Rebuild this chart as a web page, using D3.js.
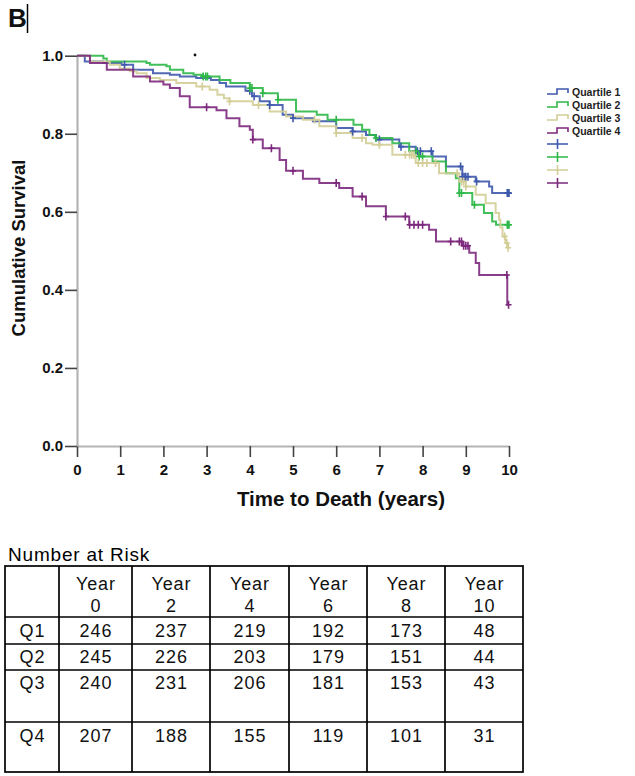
<!DOCTYPE html>
<html><head><meta charset="utf-8">
<script src="https://cdn.jsdelivr.net/npm/d3@7"></script>
<style>body{margin:0;background:#fff}svg{display:block}</style>
</head><body>
<svg id="c" width="635" height="776"></svg>
<script>
// ---------- data ----------
const xTicks = [0,1,2,3,4,5,6,7,8,9,10];
const yTicks = [0,0.2,0.4,0.6,0.8,1.0];
const seriesNames = ["Quartile 1","Quartile 2","Quartile 3","Quartile 4"];
const seriesColors = ["#3E58AC","#2EB848","#D3CE97","#7C287D"];

const q1Time = [0,0.18,0.61,1.03,1.3,1.76,2.15,2.38,2.76,3.1,3.3,3.45,3.9,4.05,4.23,4.46,4.76,5.0,5.46,6.0,6.38,6.69,6.92,7.46,7.84,8.23,8.54,8.92,9.23,9.54,9.61,10];
const q1Surv = [1.0,0.985,0.981,0.977,0.964,0.955,0.951,0.947,0.943,0.938,0.93,0.921,0.91,0.896,0.883,0.874,0.849,0.84,0.832,0.815,0.806,0.797,0.785,0.767,0.755,0.742,0.716,0.69,0.678,0.665,0.648,0.648];
const q1Censor = [1.1,4.0,4.1,4.46,5.0,6.38,7.0,7.5,7.84,7.88,7.95,8.2,8.88,8.92,8.96,9.0,9.05,9.25,9.96,9.98,10];

const q2Time = [0,0.61,0.69,1.61,1.69,2.07,2.15,2.46,2.7,2.9,3.3,3.55,4.0,4.3,4.65,5.07,5.55,5.8,6.4,6.6,6.77,6.9,7.3,7.69,7.92,8.23,8.54,8.77,8.85,9.15,9.42,9.61,9.7,10];
const q2Surv = [1.0,0.993,0.985,0.981,0.977,0.973,0.964,0.955,0.951,0.947,0.938,0.93,0.917,0.904,0.887,0.857,0.849,0.836,0.823,0.81,0.797,0.789,0.776,0.755,0.742,0.729,0.699,0.686,0.648,0.618,0.597,0.575,0.567,0.567];
const q2Censor = [2.92,2.98,3.02,4.0,4.05,4.3,4.65,6.0,6.92,7.85,7.92,8.0,8.85,8.9,9.2,9.96,9.98,10];

const q3Time = [0,0.3,0.76,0.99,1.22,1.38,1.61,1.92,2.3,2.76,3.07,3.25,3.4,3.53,4.07,4.46,4.84,5.23,5.61,6.0,6.38,6.69,6.84,7.3,7.84,8.38,8.85,9.0,9.23,9.46,9.69,9.77,9.8,9.85,9.92,9.98,10];
const q3Surv = [1.0,0.985,0.977,0.967,0.96,0.955,0.943,0.938,0.93,0.921,0.913,0.9,0.891,0.883,0.874,0.857,0.844,0.836,0.819,0.802,0.789,0.776,0.772,0.746,0.725,0.699,0.678,0.665,0.644,0.622,0.597,0.58,0.56,0.537,0.52,0.508,0.508];
const q3Censor = [2.9,3.53,4.2,5.5,6.0,6.6,7.0,7.6,7.7,7.75,7.8,7.9,8.0,8.1,8.3,8.8,8.9,8.95,9.0,9.9,9.95,9.98];

const q4Time = [0,0.3,0.69,1.3,1.69,2.0,2.15,2.38,2.61,3.23,3.46,3.76,4.0,4.07,4.3,4.69,4.84,5.23,5.61,6.07,6.38,6.69,7.15,7.69,8.15,8.31,8.92,9.08,9.23,9.31,9.96,10];
const q4Surv = [1.0,0.981,0.964,0.947,0.934,0.926,0.917,0.896,0.868,0.86,0.84,0.819,0.81,0.785,0.763,0.733,0.705,0.685,0.674,0.661,0.639,0.614,0.588,0.567,0.554,0.524,0.513,0.495,0.469,0.438,0.362,0.362];
const q4Censor = [3.0,4.07,4.5,5.0,6.0,6.6,7.15,7.6,7.7,7.8,7.9,8.0,8.65,8.85,8.9,8.95,9.0,9.05,9.95,9.99];

const riskTitle = "Number at Risk";
const riskYears = [0,2,4,6,8,10];
const riskRows = ["Q1","Q2","Q3","Q4"];
const riskQ1 = [246,237,219,192,173,48];
const riskQ2 = [245,226,203,179,151,44];
const riskQ3 = [240,231,206,181,153,43];
const riskQ4 = [207,188,155,119,101,31];

// ---------- build ----------
const series = [
  {name:seriesNames[0], color:seriesColors[0], t:q1Time, s:q1Surv, c:q1Censor},
  {name:seriesNames[1], color:seriesColors[1], t:q2Time, s:q2Surv, c:q2Censor},
  {name:seriesNames[2], color:seriesColors[2], t:q3Time, s:q3Surv, c:q3Censor},
  {name:seriesNames[3], color:seriesColors[3], t:q4Time, s:q4Surv, c:q4Censor}
];
const riskData = [riskQ1,riskQ2,riskQ3,riskQ4];

const svg = d3.select("#c");
const FONT = "'Liberation Sans', Arial, sans-serif";

const x = d3.scaleLinear().domain([0,10]).range([77,509]);
const y = d3.scaleLinear().domain([0,1]).range([446,55.7]);

// Panel letter
svg.append("text").attr("x",8).attr("y",27).attr("font-family",FONT)
  .attr("font-size",26).attr("font-weight","bold").attr("fill","#111").text("B");
svg.append("line").attr("x1",27.5).attr("x2",27.5).attr("y1",4).attr("y2",33)
  .attr("stroke","#000").attr("stroke-width",1.5);

// Axes
const gx = svg.append("g").attr("transform",`translate(0,${y(0)})`)
  .call(d3.axisBottom(x).tickValues(xTicks).tickFormat(d3.format("d")).tickSize(11).tickSizeOuter(0).tickPadding(7));
const gy = svg.append("g").attr("transform",`translate(${x(0)},0)`)
  .call(d3.axisLeft(y).tickValues(yTicks).tickFormat(d3.format(".1f")).tickSize(12).tickSizeOuter(0).tickPadding(2));
[gx,gy].forEach(g=>{
  g.select(".domain").attr("stroke","#b4b4b4").attr("stroke-width",2.2);
  g.selectAll(".tick line").attr("stroke","#444").attr("stroke-width",1.6);
  g.selectAll(".tick text").attr("font-family",FONT).attr("font-size",15)
    .attr("font-weight","bold").attr("fill","#111");
});

// Axis titles
svg.append("text").attr("x",341).attr("y",506).attr("text-anchor","middle")
  .attr("font-family",FONT).attr("font-size",20.5).attr("font-weight","bold").attr("fill","#111")
  .text("Time to Death (years)");
svg.append("text").attr("transform","translate(25,248) rotate(-90)").attr("text-anchor","middle")
  .attr("font-family",FONT).attr("font-size",18.5).attr("font-weight","bold").attr("fill","#111")
  .text("Cumulative Survival");

// Curves
const line = d3.line().x(d=>x(d[0])).y(d=>y(d[1])).curve(d3.curveStepAfter);
function survAt(sr,t){ let v=sr.s[0]; for(let i=0;i<sr.t.length;i++){ if(sr.t[i]<=t) v=sr.s[i]; } return v; }
const plot = svg.append("g");
series.forEach(sr=>{
  plot.append("path").datum(sr.t.map((t,i)=>[t,sr.s[i]]))
    .attr("d",line).attr("fill","none").attr("stroke",sr.color)
    .attr("stroke-width",2).attr("stroke-opacity",0.9);
});
series.forEach(sr=>{
  plot.selectAll(null).data(sr.c).enter().append("path")
    .attr("d",t=>{const px=x(t), py=y(survAt(sr,t)); return `M${px},${py-4}V${py+4}M${px-3},${py}H${px+3}`;})
    .attr("stroke",sr.color).attr("stroke-width",1.6).attr("fill","none");
});
// stray dot
svg.append("circle").attr("cx",195).attr("cy",55).attr("r",1.4).attr("fill","#111");

// Legend
const lg = svg.append("g");
series.forEach((sr,i)=>{
  const ly = 92 + 13*i;
  lg.append("path").attr("d",`M547,${ly+2}H557V${ly-3}H568V${ly+1}`)
    .attr("fill","none").attr("stroke",sr.color).attr("stroke-width",1.6);
  lg.append("text").attr("x",572).attr("y",ly).attr("dy","0.35em")
    .attr("font-family",FONT).attr("font-size",10.5).attr("font-weight","bold").attr("fill","#222")
    .text(sr.name);
});
series.forEach((sr,i)=>{
  const ly = 92 + 13*(i+4);
  lg.append("path").attr("d",`M547,${ly}H568M557.5,${ly-5}V${ly+5}`)
    .attr("fill","none").attr("stroke",sr.color).attr("stroke-width",1.6);
});

// Risk table
const colEdges = [5,59,132,210,289,367,445,523];
const rowEdges = [566,617,644,670,722,772];
const rowBase = [637,663,689,742];
const TF = 18, LS = 0.9;
svg.append("text").attr("x",8).attr("y",561).attr("font-family",FONT).attr("font-size",19)
  .attr("letter-spacing","0.8px").attr("fill","#000").text(riskTitle);
const tb = svg.append("g").attr("stroke","#000").attr("stroke-width",1.7);
tb.append("rect").attr("x",colEdges[0]).attr("y",rowEdges[0])
  .attr("width",colEdges[7]-colEdges[0]).attr("height",rowEdges[5]-rowEdges[0]).attr("fill","none");
colEdges.slice(1,-1).forEach(cx=>tb.append("line").attr("x1",cx).attr("x2",cx).attr("y1",rowEdges[0]).attr("y2",rowEdges[5]));
rowEdges.slice(1,-1).forEach(ry=>tb.append("line").attr("y1",ry).attr("y2",ry).attr("x1",colEdges[0]).attr("x2",colEdges[7]));
const ct = (i)=> (colEdges[i]+colEdges[i+1])/2 + LS/2;
function cell(txt,cx,by){
  svg.append("text").attr("x",cx).attr("y",by).attr("text-anchor","middle")
    .attr("font-family",FONT).attr("font-size",TF).attr("letter-spacing",LS+"px").attr("fill","#111").text(txt);
}
riskYears.forEach((yr,j)=>{ cell("Year",ct(j+1),590); cell(String(yr),ct(j+1),612); });
riskRows.forEach((rn,i)=>{
  cell(rn,ct(0),rowBase[i]);
  riskData[i].forEach((v,j)=>cell(String(v),ct(j+1),rowBase[i]));
});
</script>
</body></html>
